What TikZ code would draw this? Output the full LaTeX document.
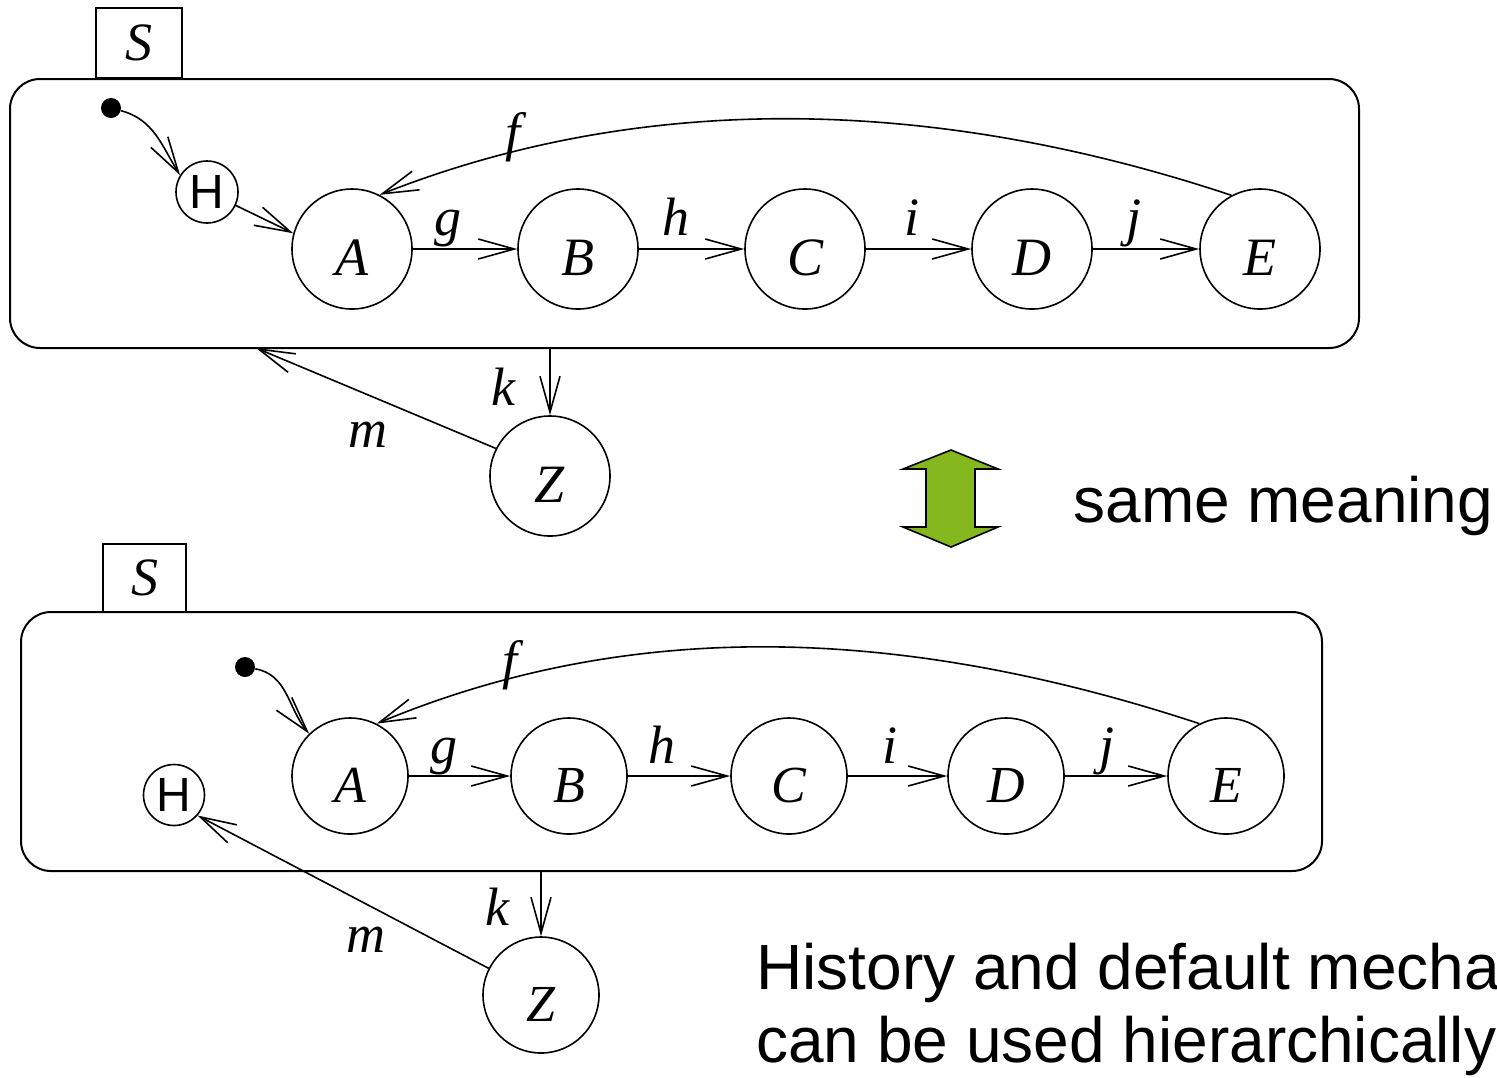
\documentclass[tikz,border=0pt]{standalone}
\usepackage{fontspec}
\setmainfont{Liberation Serif}
\newfontfamily\arialfont{Liberation Sans}
\usetikzlibrary{arrows.meta}
\definecolor{arrowgreen}{RGB}{133,184,30}
\tikzset{
  wire/.style={line width=0.8pt},
  barb/.style={wire, -{Straight Barb[length=18pt,width=10pt]}},
  frame/.style={draw, line width=1pt, rounded corners=15pt, inner sep=0pt},
  tab/.style={draw, line width=1pt, inner sep=0pt, font=\fontsize{27}{30}\selectfont\itshape},
  st/.style={circle, draw, line width=0.8pt, inner sep=0pt, minimum size=60pt,
             text height=27pt, text depth=0.5pt, font=\fontsize{27}{30}\selectfont\itshape},
  sst/.style={st, minimum size=58pt, font=\fontsize{26}{30}\selectfont\itshape},
  hist/.style={circle, draw, line width=0.8pt, inner sep=0pt, minimum size=31pt,
               font=\fontsize{24}{26}\selectfont\arialfont},
  init/.style={circle, fill=black, inner sep=0pt, minimum size=10pt},
  lbl/.style={inner sep=0pt, anchor=base, font=\fontsize{27}{30}\selectfont\itshape},
  note/.style={inner sep=0pt, anchor=base west, font=\fontsize{32}{36}\selectfont\arialfont}
}
\begin{document}
\begin{tikzpicture}[x=0.5pt,y=-0.5pt]
\clip (0,0) rectangle (1497,1077);
\fill[white] (0,0) rectangle (1497,1077);

% ---------- upper chart: history entered from the default ----------
\node[frame, minimum width=674.5pt, minimum height=134.5pt] (S1) at (684.5,213.5) {};
\node[tab, minimum width=43pt, minimum height=35pt] (T1) at (139,43) {S};

\node[init] (I1) at (111,108) {};
\node[hist] (H1) at (207,192) {H};
\node[st] (A1) at (352,249) {A};
\node[st] (B1) at (578,249) {B};
\node[st] (C1) at (805,249) {C};
\node[st] (D1) at (1032,249) {D};
\node[st] (E1) at (1260,249) {E};
\node[st] (Z1) at (550,476) {Z};
\coordinate (M1) at (256,348);

\draw[barb] (I1) to[out=-15,in=122] (H1.148);
\draw[barb] (H1.-25) -- (A1.165);
\draw[barb] (A1) -- (B1);
\draw[barb] (B1) -- (C1);
\draw[barb] (C1) -- (D1);
\draw[barb] (D1) -- (E1);
\draw[barb] (E1.118) .. controls (930,95) and (640,92) .. (A1.63);
\draw[barb] (S1.south -| Z1) -- (Z1);
\draw[barb] (Z1.153) -- (M1);

\node[lbl] (lf1) at (513,150) {f};
\node[lbl] (lg1) at (448,235) {g};
\node[lbl] (lh1) at (676,235) {h};
\node[lbl] (li1) at (912,235) {i};
\node[lbl] (lj1) at (1134,235) {j};
\node[lbl] (lk1) at (503,405) {k};
\node[lbl] (lm1) at (368,447) {m};

% ---------- equivalence marker ----------
\draw[fill=arrowgreen, line width=0.8pt, line join=miter]
  (951,450) -- (998,469) -- (975,469) -- (975,527) -- (998,527) -- (951,547)
  -- (903,527) -- (926,527) -- (926,469) -- (903,469) -- cycle;
\node[note] (same) at (1073,522) {same meaning};

% ---------- lower chart: history state reached from outside ----------
\node[frame, minimum width=650.5pt, minimum height=129.5pt] (S2) at (671.5,741.5) {};
\node[tab, minimum width=41.5pt, minimum height=34pt] (T2) at (144.5,578) {S};

\node[init] (I2) at (245,667) {};
\node[hist, minimum size=30.5pt] (H2) at (174,795) {H};
\node[sst] (A2) at (350,776) {A};
\node[sst] (B2) at (569,776) {B};
\node[sst] (C2) at (789,776) {C};
\node[sst] (D2) at (1006,776) {D};
\node[sst] (E2) at (1226,776) {E};
\node[sst] (Z2) at (541,995) {Z};

\draw[barb] (I2) to[out=-10,in=130] (A2.134);
\draw[barb] (A2) -- (B2);
\draw[barb] (B2) -- (C2);
\draw[barb] (C2) -- (D2);
\draw[barb] (D2) -- (E2);
\draw[barb] (E2.117) .. controls (900,625) and (630,618) .. (A2.63);
\draw[barb] (S2.south -| Z2) -- (Z2);
\draw[barb] (Z2.153) -- (H2.-41);

\node[lbl] (lf2) at (510,678) {f};
\node[lbl] (lg2) at (444,763) {g};
\node[lbl] (lh2) at (662,763) {h};
\node[lbl] (li2) at (890,763) {i};
\node[lbl] (lj2) at (1107,763) {j};
\node[lbl] (lk2) at (497,925) {k};
\node[lbl] (lm2) at (366,952) {m};

% ---------- caption ----------
\node[note] (cap1) at (756,989) {History and default mecha};
\node[note] (cap2) at (756,1062) {can be used hierarchically};
\end{tikzpicture}
\end{document}
